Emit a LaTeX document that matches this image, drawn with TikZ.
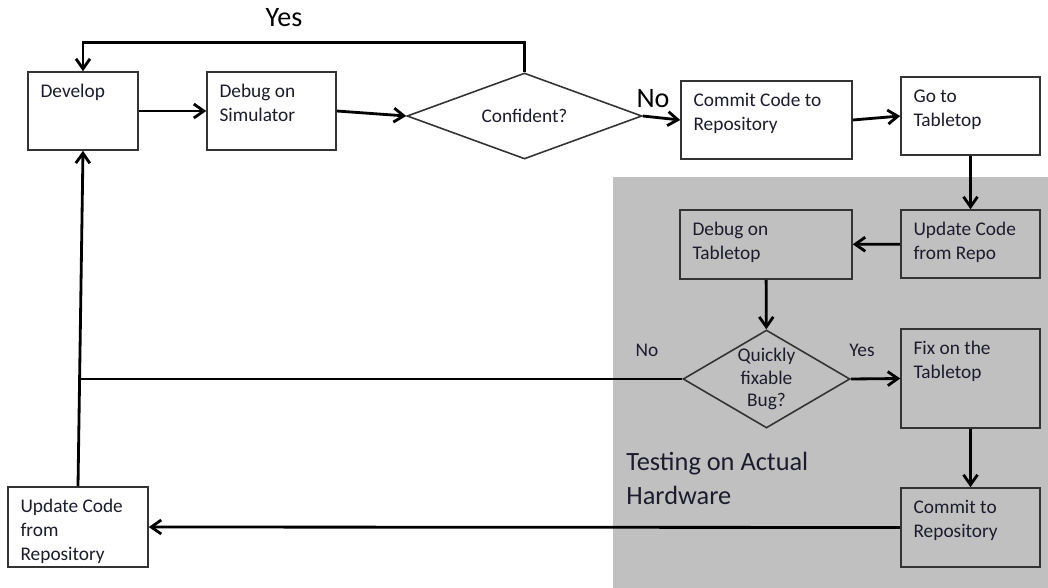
\documentclass[tikz,border=0pt]{standalone}
\usepackage{fontspec}
\setmainfont{Carlito}
\usetikzlibrary{shapes.geometric,arrows.meta}
\definecolor{hwgray}{HTML}{C0C0C0}
\definecolor{boxline}{HTML}{333333}
\definecolor{txtcol}{HTML}{1C1C2C}
\begin{document}
\begin{tikzpicture}[x=0.02cm,y=-0.02cm,
  box/.style={draw=boxline, line width=0.9pt, inner sep=0pt},
  boxtext/.style={anchor=north west, align=left, inner xsep=0.26cm, inner ysep=0.26cm,
    text=txtcol, font=\fontsize{11}{13.6}\selectfont},
  decision/.style={diamond, draw=boxline, line width=0.9pt, inner sep=0pt, align=center,
    text=txtcol, font=\fontsize{11}{12.8}\selectfont},
  arr/.style={line width=1.6pt, -{Straight Barb[length=2mm,width=2.8mm]}},
  bigtag/.style={font=\fontsize{16}{18}\selectfont, text=black},
  smalltag/.style={font=\fontsize{11}{13}\selectfont, text=txtcol}]
\useasboundingbox (0,0) rectangle (1048,588);
% hardware area
\fill[hwgray] (613,177) rectangle (1048,588);
\node[anchor=north west, align=left, inner sep=0pt, text=txtcol, font=\fontsize{15}{19.5}\selectfont] (hwtag) at (626,452) {Testing on Actual\\Hardware};
% boxes
\node[box, fill=white, minimum width=2.2cm, minimum height=1.56cm, label={[boxtext]north west:Develop}] (dev) at (83,111) {};
\node[box, fill=white, minimum width=2.58cm, minimum height=1.56cm, label={[boxtext]north west:Debug on\\Simulator}] (dsim) at (271.5,111) {};
\node[decision, fill=white, aspect=2.67, minimum width=4.7cm, minimum height=1.72cm] (conf) at (524.5,116) {Confident?};
\node[box, fill=white, minimum width=3.42cm, minimum height=1.56cm, label={[boxtext]north west:Commit Code to\\Repository}] (commit) at (766.5,120) {};
\node[box, fill=white, minimum width=2.78cm, minimum height=1.56cm, label={[boxtext]north west:Go to\\Tabletop}] (goto) at (970.5,116) {};
\node[box, minimum width=3.44cm, minimum height=1.38cm, label={[boxtext]north west:Debug on\\Tabletop}] (dtab) at (766,244.5) {};
\node[box, minimum width=2.78cm, minimum height=1.36cm, label={[boxtext]north west:Update Code\\from Repo}] (upd) at (970.5,244) {};
\node[decision, aspect=1.7, minimum width=3.34cm, minimum height=1.96cm] (qfix) at (766.5,379) {Quickly\\fixable\\Bug?};
\node[box, minimum width=2.78cm, minimum height=1.98cm, label={[boxtext]north west:Fix on the\\Tabletop}] (fix) at (970.5,378.5) {};
\node[box, minimum width=2.78cm, minimum height=1.58cm, label={[boxtext]north west:Commit to\\Repository}] (comm2) at (970.5,527.5) {};
\node[box, fill=white, minimum width=2.8cm, minimum height=1.6cm, label={[boxtext]north west:Update Code\\from\\Repository}] (upd2) at (78,527) {};
% tags
\node[bigtag] (yes1) at (284,18) {Yes};
\node[bigtag] (no1) at (653,99) {No};
\node[smalltag] (no2) at (647,350) {No};
\node[smalltag] (yes2) at (862,350) {Yes};
% connectors
\draw[arr] (dev) -- (dsim);
\draw[arr] (dsim.east) -- (conf.west);
\draw[arr] (conf.east) -- (commit.west);
\draw[arr] (commit.east) -- (goto.west);
\draw[arr] (conf.north) -- ++(0,-30) -| (dev.north);
\draw[arr] (goto) -- (upd);
\draw[arr] (upd) -- (dtab);
\draw[arr] (dtab) -- (qfix);
\draw[arr] (qfix.east) -- (fix.west);
\draw[arr] (fix) -- (comm2);
\draw[arr] (comm2.west) -- (upd2.east);
\draw[arr] (upd2.north) -- (dev.south);
\coordinate (jn) at (81,379);
\draw[line width=1.6pt] (qfix.west) -- (jn);
\end{tikzpicture}
\end{document}
